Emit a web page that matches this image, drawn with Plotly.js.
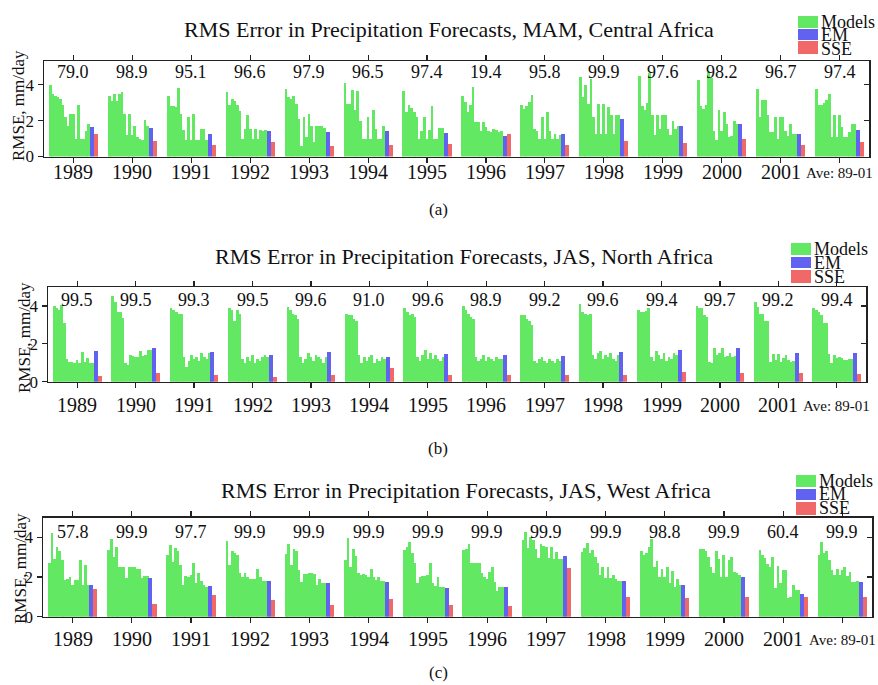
<!DOCTYPE html>
<html>
<head>
<meta charset="utf-8">
<script src="https://cdn.plot.ly/plotly-3.0.1.min.js"></script>
<style>html,body{margin:0;padding:0;background:#fff;}#chart{width:878px;height:685px;}</style>
</head>
<body>
<div id="chart"></div>
<script>
// ---------------- DATA ----------------
const years = ['1989','1990','1991','1992','1993','1994','1995','1996','1997','1998','1999','2000','2001','Ave: 89-01'];

const titleA = 'RMS Error in Precipitation Forecasts, MAM, Central Africa';
const titleB = 'RMS Error in Precipitation Forecasts, JAS, North Africa';
const titleC = 'RMS Error in Precipitation Forecasts, JAS, West Africa';

const pctA = [79.0, 98.9, 95.1, 96.6, 97.9, 96.5, 97.4, 19.4, 95.8, 99.9, 97.6, 98.2, 96.7, 97.4];
const pctB = [99.5, 99.5, 99.3, 99.5, 99.6, 91.0, 99.6, 98.9, 99.2, 99.6, 99.4, 99.7, 99.2, 99.4];
const pctC = [57.8, 99.9, 97.7, 99.9, 99.9, 99.9, 99.9, 99.9, 99.9, 99.9, 98.8, 99.9, 60.4, 99.9];

const modelsA = [
  [3.97, 3.5, 3.4, 3.3, 3.2, 2.9, 2.2, 1.7, 2.4, 2.4, 1.0, 2.9, 1.0, 1.0, 1.45, 1.8],
  [3.35, 3.1, 3.5, 3.1, 3.5, 3.6, 2.4, 1.2, 2.4, 1.2, 1.7, 1.1, 1.0, 0.9, 2.05, 1.7],
  [3.35, 2.8, 2.8, 2.75, 3.8, 2.4, 1.5, 0.9, 2.2, 0.9, 2.4, 0.9, 0.9, 1.55, 1.55, 0.9],
  [3.6, 2.85, 3.2, 3.1, 2.9, 2.55, 1.0, 1.55, 2.3, 1.55, 1.0, 1.55, 1.0, 1.5, 1.45, 1.5],
  [3.78, 3.3, 3.2, 3.35, 2.94, 2.1, 0.6, 2.2, 1.08, 2.4, 1.7, 0.8, 1.68, 1.73, 1.73, 1.6],
  [4.1, 2.94, 2.94, 3.7, 2.57, 3.65, 2.0, 1.0, 1.0, 2.23, 1.0, 2.6, 1.55, 1.0, 1.0, 1.68],
  [3.65, 2.48, 2.85, 2.7, 2.48, 2.2, 1.0, 1.45, 2.2, 1.0, 1.5, 2.8, 1.0, 1.0, 1.6, 1.6],
  [3.35, 3.03, 2.48, 2.85, 3.87, 1.9, 1.9, 1.45, 1.9, 1.64, 1.45, 1.36, 1.55, 1.5, 1.36, 1.4],
  [2.85, 2.66, 2.8, 3.03, 3.46, 1.55, 1.45, 1.0, 2.2, 1.0, 2.48, 1.45, 1.0, 1.27, 1.0, 1.2],
  [4.43, 3.3, 4.0, 2.94, 4.34, 2.2, 1.27, 2.94, 1.27, 2.94, 1.27, 2.75, 2.3, 1.27, 2.3, 2.3],
  [4.5, 2.8, 2.6, 3.0, 4.65, 2.3, 1.2, 2.3, 1.55, 2.3, 2.3, 1.55, 1.2, 2.0, 1.55, 1.7],
  [4.25, 2.8, 2.66, 2.85, 4.7, 4.4, 1.45, 0.9, 2.57, 1.45, 2.48, 1.83, 1.08, 1.17, 2.0, 1.8],
  [3.78, 2.2, 3.17, 3.13, 2.3, 1.36, 1.36, 2.23, 1.0, 2.23, 2.23, 1.42, 1.17, 1.8, 1.25, 1.25],
  [3.78, 2.85, 2.85, 3.0, 3.13, 3.5, 1.08, 2.3, 1.1, 2.3, 1.64, 1.1, 1.1, 1.36, 1.8, 1.8]
];
const emA  = [1.64, 1.6, 1.27, 1.45, 1.36, 1.42, 1.3, 1.17, 1.23, 2.1, 1.68, 1.8, 1.23, 1.5];
const sseA = [1.27, 0.84, 0.67, 0.8, 0.61, 0.67, 0.7, 1.27, 0.67, 0.86, 0.75, 1.0, 0.67, 0.8];

const modelsB = [
  [4.0, 3.9, 3.8, 4.05, 3.1, 1.2, 1.05, 1.05, 0.97, 1.15, 1.0, 1.55, 1.05, 1.25, 1.0, 1.0],
  [4.55, 4.23, 3.7, 3.7, 3.35, 0.97, 0.9, 1.4, 1.36, 1.32, 1.32, 1.6, 1.36, 1.4, 1.7, 1.7],
  [3.9, 3.8, 3.7, 3.6, 3.6, 1.3, 0.8, 1.1, 1.4, 1.2, 1.3, 1.1, 1.5, 1.3, 1.2, 1.5],
  [3.9, 3.8, 3.2, 3.8, 3.6, 1.2, 1.0, 1.3, 1.1, 1.4, 1.0, 1.2, 1.1, 1.3, 1.4, 1.3],
  [3.95, 3.8, 3.6, 3.5, 3.3, 1.3, 1.0, 1.2, 1.5, 1.3, 1.1, 1.4, 1.3, 1.2, 1.0, 1.3],
  [3.6, 3.5, 3.5, 3.3, 3.2, 1.4, 1.0, 1.3, 1.1, 1.3, 1.4, 1.0, 1.2, 1.1, 1.3, 1.2],
  [3.9, 3.7, 3.5, 3.6, 3.4, 1.3, 1.1, 1.4, 1.7, 1.2, 1.5, 1.2, 1.4, 1.2, 1.1, 1.3],
  [4.0, 3.8, 3.6, 3.4, 3.3, 1.3, 1.1, 1.2, 1.4, 1.1, 1.3, 1.2, 1.1, 1.3, 1.2, 1.2],
  [3.5, 3.5, 3.3, 3.2, 3.0, 1.1, 1.0, 1.2, 1.3, 1.1, 1.0, 1.2, 1.1, 1.0, 1.2, 1.1],
  [4.1, 3.7, 3.6, 3.5, 3.6, 1.4, 1.2, 1.5, 1.6, 1.2, 1.4, 1.3, 1.5, 1.2, 1.1, 1.4],
  [3.8, 3.7, 3.7, 3.75, 3.9, 1.3, 1.1, 1.6, 1.4, 1.2, 1.5, 1.1, 1.3, 1.2, 1.5, 1.4],
  [4.0, 3.9, 3.9, 3.5, 3.4, 1.05, 1.0, 1.76, 1.4, 1.5, 1.76, 1.3, 1.35, 1.5, 1.3, 1.35],
  [4.2, 3.95, 3.6, 3.6, 3.2, 3.2, 1.05, 1.46, 1.15, 1.46, 1.05, 1.23, 1.4, 1.15, 1.05, 1.1],
  [3.88, 3.8, 3.7, 3.5, 3.1, 3.1, 1.46, 0.97, 1.4, 1.23, 1.3, 1.23, 1.15, 1.15, 1.2, 1.2]
];
const emB  = [1.6, 1.76, 1.55, 1.4, 1.55, 1.3, 1.45, 1.4, 1.35, 1.55, 1.65, 1.76, 1.53, 1.53];
const sseB = [0.3, 0.48, 0.35, 0.25, 0.35, 0.7, 0.35, 0.35, 0.35, 0.35, 0.5, 0.48, 0.44, 0.4];

const modelsC = [
  [2.73, 4.25, 2.9, 3.54, 3.3, 2.84, 1.86, 1.9, 2.0, 1.6, 1.86, 1.86, 2.87, 1.6, 2.6, 1.6],
  [3.38, 3.9, 3.0, 3.54, 2.53, 2.53, 2.53, 1.94, 2.5, 2.5, 2.53, 2.4, 2.4, 1.94, 2.06, 2.06],
  [3.12, 3.63, 2.78, 3.46, 3.34, 2.6, 1.6, 2.06, 2.0, 2.1, 2.7, 1.7, 2.2, 1.8, 1.6, 1.5],
  [3.8, 2.6, 3.3, 3.2, 3.1, 2.2, 2.0, 2.2, 2.0, 1.9, 1.9, 1.9, 2.4, 2.0, 1.8, 1.8],
  [3.17, 3.68, 2.62, 3.4, 3.3, 2.36, 1.77, 2.16, 2.16, 2.19, 2.23, 2.16, 1.6, 1.89, 1.69, 1.69],
  [2.87, 4.0, 2.53, 3.4, 3.07, 2.19, 2.1, 2.16, 2.1, 2.0, 2.4, 2.0, 1.86, 2.0, 1.8, 1.8],
  [3.38, 3.54, 3.75, 3.2, 2.73, 1.69, 2.03, 2.06, 2.06, 2.1, 2.7, 1.69, 1.55, 2.0, 1.52, 1.52],
  [3.38, 3.41, 3.68, 2.73, 2.73, 2.7, 2.73, 2.23, 2.03, 1.89, 2.28, 2.5, 1.77, 1.3, 1.52, 1.52],
  [3.88, 4.3, 3.46, 4.05, 3.88, 3.41, 2.95, 3.68, 3.58, 3.54, 2.95, 3.54, 2.9, 3.29, 2.9, 2.9],
  [3.29, 3.46, 3.71, 3.2, 3.38, 3.04, 2.7, 2.1, 2.53, 1.94, 2.53, 1.94, 2.1, 1.9, 1.8, 1.8],
  [3.3, 3.1, 3.2, 3.5, 3.9, 2.5, 2.8, 2.0, 2.4, 2.0, 2.5, 1.7, 2.3, 1.5, 1.9, 1.6],
  [3.4, 3.4, 3.3, 3.0, 2.5, 2.2, 3.3, 2.9, 2.0, 3.1, 2.0, 2.87, 3.04, 2.28, 2.2, 2.1],
  [3.38, 3.12, 2.95, 2.67, 2.53, 3.04, 1.43, 2.57, 1.69, 2.36, 2.36, 0.93, 1.01, 1.6, 1.35, 1.35],
  [3.12, 3.75, 3.2, 3.3, 2.87, 2.36, 2.1, 2.4, 2.1, 2.36, 2.53, 2.06, 2.28, 1.77, 1.77, 1.8]
];
const emC  = [1.6, 1.94, 1.55, 1.8, 1.72, 1.77, 1.45, 1.52, 3.07, 1.79, 1.6, 2.03, 1.15, 1.75];
const sseC = [1.4, 0.64, 1.1, 0.85, 0.59, 0.88, 0.59, 0.54, 2.45, 0.98, 0.95, 1.01, 1.01, 1.01];

const seriesNames = ['Models', 'EM', 'SSE'];
const yTicks = [0, 2, 4];

// ---------------- STYLE / LAYOUT ----------------
const W = 878, H = 685;
const FONT = 'Liberation Serif, Times New Roman, serif';
const GREEN = '#62E862', BLUE = '#6262F0', RED = '#F06868';
const GSTART = -0.415, BW = 0.0435, EW = 0.068;

const px = x => x / W;
const py = y => 1 - y / H;

const panels = [
  {models: modelsA, em: emA, sse: sseA, pct: pctA, title: titleA, xa: 'x',  ya: 'y',
   x0: 44, x1: 869, top: 61, bot: 156.5, ymax: 5.33, pctY: 4.72, titleX: 449, titleY: 29, yearY: 172,
   leg: {x: 798, y: [16, 29, 41], ty: [22, 35, 49]}, ytitle: {x: 19, y: 106}, sub: {t: '(a)', y: 209}},
  {models: modelsB, em: emB, sse: sseB, pct: pctB, title: titleB, xa: 'x2', ya: 'y2',
   x0: 48, x1: 866, top: 287, bot: 381.7, ymax: 5.0, pctY: 4.3, titleX: 464, titleY: 256, yearY: 405,
   leg: {x: 791, y: [243, 257, 270], ty: [249, 263, 277]}, ytitle: {x: 24, y: 338}, sub: {t: '(b)', y: 448}},
  {models: modelsC, em: emC, sse: sseC, pct: pctC, title: titleC, xa: 'x3', ya: 'y3',
   x0: 43, x1: 872, top: 517.7, bot: 616.7, ymax: 5.0, pctY: 4.3, titleX: 466, titleY: 490, yearY: 639,
   leg: {x: 796, y: [475, 489, 502], ty: [481, 494, 508]}, ytitle: {x: 20, y: 569}, sub: {t: '(c)', y: 672}}
];

const traces = [];
const annotations = [];
const shapes = [];
const layout = {
  width: W, height: H,
  margin: {l: 0, r: 0, t: 0, b: 0},
  paper_bgcolor: '#fff', plot_bgcolor: '#fff',
  barmode: 'overlay', bargap: 0,
  showlegend: false,
  font: {family: FONT, color: '#111', size: 17}
};

panels.forEach((p, k) => {
  const mx = [], my = [], ex = [], sx = [];
  p.models.forEach((grp, g) => {
    grp.forEach((v, i) => { mx.push(g + GSTART + (i + 0.5) * BW); my.push(v); });
    ex.push(g + GSTART + grp.length * BW + EW / 2);
    sx.push(g + GSTART + grp.length * BW + EW * 1.5);
  });
  traces.push({type: 'bar', name: seriesNames[0], x: mx, y: my, width: BW * 1.08,
    marker: {color: GREEN, line: {width: 0}}, xaxis: p.xa, yaxis: p.ya, hoverinfo: 'y'});
  traces.push({type: 'bar', name: seriesNames[1], x: ex, y: p.em, width: EW,
    marker: {color: BLUE, line: {width: 0}}, xaxis: p.xa, yaxis: p.ya, hoverinfo: 'y'});
  traces.push({type: 'bar', name: seriesNames[2], x: sx, y: p.sse, width: EW,
    marker: {color: RED, line: {width: 0}}, xaxis: p.xa, yaxis: p.ya, hoverinfo: 'y'});

  const xk = k === 0 ? 'xaxis' : 'xaxis' + (k + 1);
  const yk = k === 0 ? 'yaxis' : 'yaxis' + (k + 1);
  const rk = 'yaxis' + (k + 4);
  layout[xk] = {
    domain: [px(p.x0), px(p.x1)], anchor: p.ya, range: [-0.5, 13.5],
    tickvals: years.map((_, i) => i), showticklabels: false,
    ticks: 'outside', ticklen: 5, tickcolor: '#222', tickwidth: 1.2,
    showline: true, linecolor: '#222', linewidth: 1.5, mirror: 'allticks',
    showgrid: false, zeroline: false, layer: 'below traces', fixedrange: true
  };
  layout[yk] = {
    domain: [py(p.bot), py(p.top)], anchor: p.xa, range: [0, p.ymax],
    tickvals: yTicks, ticktext: yTicks.map(String),
    tickfont: {family: FONT, size: 17, color: '#111'},
    ticks: 'outside', ticklen: 5, tickcolor: '#222', tickwidth: 1.2,
    showline: true, linecolor: '#222', linewidth: 1.5, mirror: true,
    showgrid: false, zeroline: false, layer: 'below traces', fixedrange: true
  };
  // right-hand axis with inward ticks (as in the reference frame)
  layout[rk] = {
    overlaying: p.ya, side: 'right', anchor: p.xa, range: [0, p.ymax],
    tickvals: yTicks, showticklabels: false,
    ticks: 'inside', ticklen: 5, tickcolor: '#222', tickwidth: 1.2,
    showline: false, showgrid: false, zeroline: false, fixedrange: true
  };
  traces.push({type: 'scatter', mode: 'markers', x: [], y: [], xaxis: p.xa, yaxis: 'y' + (k + 4),
    showlegend: false, hoverinfo: 'skip'});

  // year labels under each group
  years.forEach((yr, g) => {
    const ave = yr.startsWith('Ave');
    annotations.push({xref: p.xa, yref: 'paper', x: g, y: py(p.yearY + (ave ? 1 : 0)), text: yr,
      showarrow: false, font: {family: FONT, size: ave ? 15 : 20, color: '#111'},
      xanchor: 'center', yanchor: 'middle'});
  });
  // percentage labels above each group
  p.pct.forEach((v, g) => {
    annotations.push({xref: p.xa, yref: p.ya, x: g, y: p.pctY, text: v.toFixed(1),
      showarrow: false, font: {family: FONT, size: 18, color: '#111'}, xanchor: 'center', yanchor: 'middle'});
  });
  // title
  annotations.push({xref: 'paper', yref: 'paper', x: px(p.titleX), y: py(p.titleY), text: p.title,
    showarrow: false, font: {family: FONT, size: 22, color: '#111'}, xanchor: 'center', yanchor: 'middle'});
  // y title
  annotations.push({xref: 'paper', yref: 'paper', x: px(p.ytitle.x), y: py(p.ytitle.y), text: 'RMSE, mm/day',
    textangle: -90, showarrow: false, font: {family: FONT, size: 17, color: '#111'}, xanchor: 'center', yanchor: 'middle'});
  // sub label
  annotations.push({xref: 'paper', yref: 'paper', x: px(438), y: py(p.sub.y), text: p.sub.t,
    showarrow: false, font: {family: FONT, size: 17, color: '#111'}, xanchor: 'center', yanchor: 'middle'});
  // legend
  const cols = [GREEN, BLUE, RED];
  const hts = [12, 11, 13];
  seriesNames.forEach((nm, j) => {
    shapes.push({type: 'rect', xref: 'paper', yref: 'paper', layer: 'above',
      x0: px(p.leg.x), x1: px(p.leg.x + 20), y0: py(p.leg.y[j] + hts[j]), y1: py(p.leg.y[j]),
      fillcolor: cols[j], line: {width: 0}});
    annotations.push({xref: 'paper', yref: 'paper', x: px(p.leg.x + 21), y: py(p.leg.ty[j]), text: nm,
      showarrow: false, font: {family: FONT, size: 18, color: '#111'}, xanchor: 'left', yanchor: 'middle'});
  });
});

layout.annotations = annotations;
layout.shapes = shapes;

Plotly.newPlot('chart', traces, layout, {staticPlot: true, displayModeBar: false});
</script>
</body>
</html>
